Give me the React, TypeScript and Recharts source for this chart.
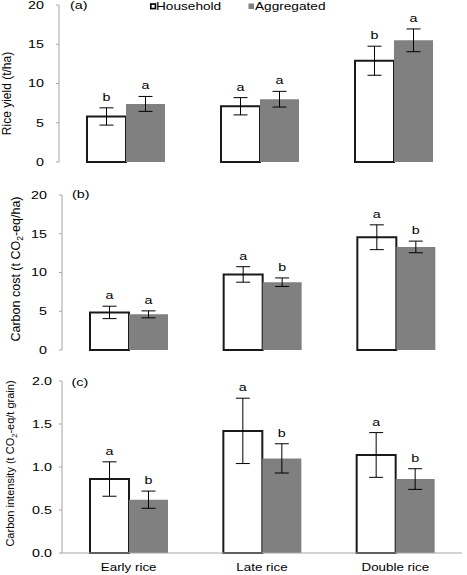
import React from "react";
import { BarChart, Bar, XAxis, YAxis, ErrorBar, LabelList } from "recharts";

const categories = ["Early rice", "Late rice", "Double rice"];

// (a) rice yield, t/ha
const yieldHousehold = [5.8, 7.1, 12.9];
const yieldHouseholdErr = [1.1, 1.1, 1.85];
const yieldAggregated = [7.4, 8.0, 15.5];
const yieldAggregatedErr = [0.95, 1.0, 1.45];
const yieldHouseholdLetters = ["b", "a", "b"];
const yieldAggregatedLetters = ["a", "a", "a"];

// (b) carbon cost, t CO2-eq/ha
const costHousehold = [4.85, 9.75, 14.55];
const costHouseholdErr = [0.8, 1.0, 1.6];
const costAggregated = [4.6, 8.75, 13.3];
const costAggregatedErr = [0.45, 0.55, 0.75];
const costHouseholdLetters = ["a", "a", "a"];
const costAggregatedLetters = ["a", "b", "b"];

// (c) carbon intensity, t CO2-eq/t grain
const intensityHousehold = [0.86, 1.42, 1.14];
const intensityHouseholdErr = [0.2, 0.38, 0.26];
const intensityAggregated = [0.62, 1.1, 0.86];
const intensityAggregatedErr = [0.1, 0.17, 0.12];
const intensityHouseholdLetters = ["a", "a", "a"];
const intensityAggregatedLetters = ["b", "b", "b"];

const yieldTicks = [0, 5, 10, 15, 20];
const costTicks = [0, 5, 10, 15, 20];
const intensityTicks = [0, 0.5, 1, 1.5, 2];

const AXIS = "#a6a6a6";
const FONT = "'Liberation Sans', Arial, sans-serif";
const STRETCH = 1.3;

type Row = {
  cat: string;
  house: number;
  houseErr: number;
  agg: number;
  aggErr: number;
  houseLetter: string;
  aggLetter: string;
};

function buildRows(
  h: number[], he: number[], a: number[], ae: number[], hl: string[], al: string[]
): Row[] {
  return categories.map((cat, i) => ({
    cat,
    house: h[i],
    houseErr: he[i],
    agg: a[i],
    aggErr: ae[i],
    houseLetter: hl[i],
    aggLetter: al[i],
  }));
}

const yieldRows = buildRows(yieldHousehold, yieldHouseholdErr, yieldAggregated, yieldAggregatedErr, yieldHouseholdLetters, yieldAggregatedLetters);
const costRows = buildRows(costHousehold, costHouseholdErr, costAggregated, costAggregatedErr, costHouseholdLetters, costAggregatedLetters);
const intensityRows = buildRows(intensityHousehold, intensityHouseholdErr, intensityAggregated, intensityAggregatedErr, intensityHouseholdLetters, intensityAggregatedLetters);

// the source figure is stretched sideways, so horizontal text gets scaled
const SText = ({ x, y, anchor = "middle", size = 11, dy, children }: any) => (
  <text
    transform={`translate(${x},${y}) scale(${STRETCH},1)`}
    textAnchor={anchor}
    fontSize={size}
    fontFamily={FONT}
    fill="#000"
    dy={dy}
  >
    {children}
  </text>
);

const YTick = ({ x, y, payload, digits }: any) => (
  <SText x={x} y={y} anchor="end" dy="0.355em">
    {digits ? Number(payload.value).toFixed(digits) : payload.value}
  </SText>
);

const XTick = ({ x, y, payload }: any) => (
  <SText x={x} y={y} size={10.3} dy="0.71em">
    {payload.value}
  </SText>
);

const letterContent = (rows: Row[], key: "house" | "agg") => (props: any) => {
  const { x, y, width, height, index } = props;
  const row = rows[index];
  const pxPerUnit = Number(height) / row[key];
  const err = key === "house" ? row.houseErr : row.aggErr;
  const top = Number(y) - err * pxPerUnit;
  return (
    <SText x={Number(x) + Number(width) / 2} y={top - 7}>
      {key === "house" ? row.houseLetter : row.aggLetter}
    </SText>
  );
};

const YLabel = ({ x, y, size, children }: any) => (
  <text
    x={x}
    y={y}
    transform={`rotate(-90, ${x}, ${y})`}
    textAnchor="middle"
    fontSize={size}
    fontFamily={FONT}
    fill="#000"
  >
    {children}
  </text>
);

interface PanelProps {
  rows: Row[];
  top: number;
  height: number;
  margin: { top: number; right: number; left: number; bottom: number };
  yWidth: number;
  domain: [number, number];
  ticks: number[];
  digits?: number;
  tickMargin: number;
  catHeight: number;
  showCats?: boolean;
  label: React.ReactNode;
}

function Panel({ rows, top, height, margin, yWidth, domain, ticks, digits, tickMargin, catHeight, showCats, label }: PanelProps) {
  return (
    <div style={{ position: "absolute", left: 0, top }}>
      <BarChart
        width={467}
        height={height}
        data={rows}
        margin={margin}
        barGap={0}
        barCategoryGap={28}
      >
        <XAxis
          xAxisId="grid"
          type="number"
          domain={[0, 3]}
          ticks={[1, 2, 3]}
          height={0}
          mirror
          axisLine={false}
          tickSize={3}
          tickLine={{ stroke: AXIS }}
          tick={false}
        />
        <XAxis
          xAxisId="cat"
          dataKey="cat"
          height={catHeight}
          axisLine={{ stroke: AXIS }}
          tickLine={false}
          tickSize={6}
          tickMargin={5}
          interval={0}
          tick={showCats ? <XTick /> : false}
        />
        <YAxis
          width={yWidth}
          domain={domain}
          ticks={ticks}
          interval={0}
          tickSize={3}
          tickMargin={tickMargin}
          axisLine={{ stroke: AXIS }}
          tickLine={{ stroke: AXIS }}
          tick={<YTick digits={digits} />}
          label={{ content: () => label }}
        />
        <Bar
          xAxisId="cat"
          dataKey="house"
          fill="#ffffff"
          stroke="#1a1a1a"
          strokeWidth={2}
          isAnimationActive={false}
        >
          <ErrorBar dataKey="houseErr" width={7} stroke="#000" strokeWidth={1} direction="y" />
          <LabelList dataKey="houseLetter" content={letterContent(rows, "house")} />
        </Bar>
        <Bar xAxisId="cat" dataKey="agg" fill="#808080" isAnimationActive={false}>
          <ErrorBar dataKey="aggErr" width={7} stroke="#000" strokeWidth={1} direction="y" />
          <LabelList dataKey="aggLetter" content={letterContent(rows, "agg")} />
        </Bar>
      </BarChart>
    </div>
  );
}

export default function App() {
  return (
    <div
      style={{
        position: "absolute",
        left: 0,
        top: 0,
        width: 467,
        height: 575,
        background: "#fff",
        fontFamily: FONT,
      }}
    >
      <Panel
        rows={yieldRows}
        top={0}
        height={175}
        margin={{ top: 5, right: 6, left: 0, bottom: 13 }}
        yWidth={59}
        domain={[0, 20]}
        ticks={yieldTicks}
        tickMargin={12}
        catHeight={0}
        label={<YLabel x={10.5} y={93.5} size={12}>Rice yield (t/ha)</YLabel>}
      />
      <Panel
        rows={costRows}
        top={180}
        height={175}
        margin={{ top: 15, right: 4, left: 0, bottom: 5 }}
        yWidth={62}
        domain={[0, 20]}
        ticks={costTicks}
        tickMargin={12}
        catHeight={0}
        label={
          <YLabel x={20} y={89} size={12.5}>
            Carbon cost (t CO<tspan dy={3} fontSize={8.5}>2</tspan>
            <tspan dy={-3}>-eq/ha)</tspan>
          </YLabel>
        }
      />
      <Panel
        rows={intensityRows}
        top={370}
        height={205}
        margin={{ top: 11, right: 5, left: 0, bottom: 0 }}
        yWidth={62}
        domain={[0, 2]}
        ticks={intensityTicks}
        digits={1}
        tickMargin={7}
        catHeight={22}
        showCats
        label={
          <YLabel x={14} y={93.5} size={11}>
            Carbon intensity (t CO<tspan dy={3} fontSize={7.5}>2</tspan>
            <tspan dy={-3}>-eq/t grain)</tspan>
          </YLabel>
        }
      />
      <svg
        width={467}
        height={575}
        style={{ position: "absolute", left: 0, top: 0, pointerEvents: "none" }}
      >
        <SText x={70} y={9} anchor="start">(a)</SText>
        <SText x={72} y={198} anchor="start">(b)</SText>
        <SText x={71.5} y={386} anchor="start">(c)</SText>
        <rect x={150.8} y={4} width={4.6} height={4.6} fill="#fff" stroke="#000" strokeWidth={1.6} />
        <SText x={156} y={10} anchor="start" size={10.5}>Household</SText>
        <rect x={248.5} y={3.5} width={5.5} height={5.5} fill="#808080" />
        <SText x={255} y={10} anchor="start" size={10.5}>Aggregated</SText>
      </svg>
    </div>
  );
}
